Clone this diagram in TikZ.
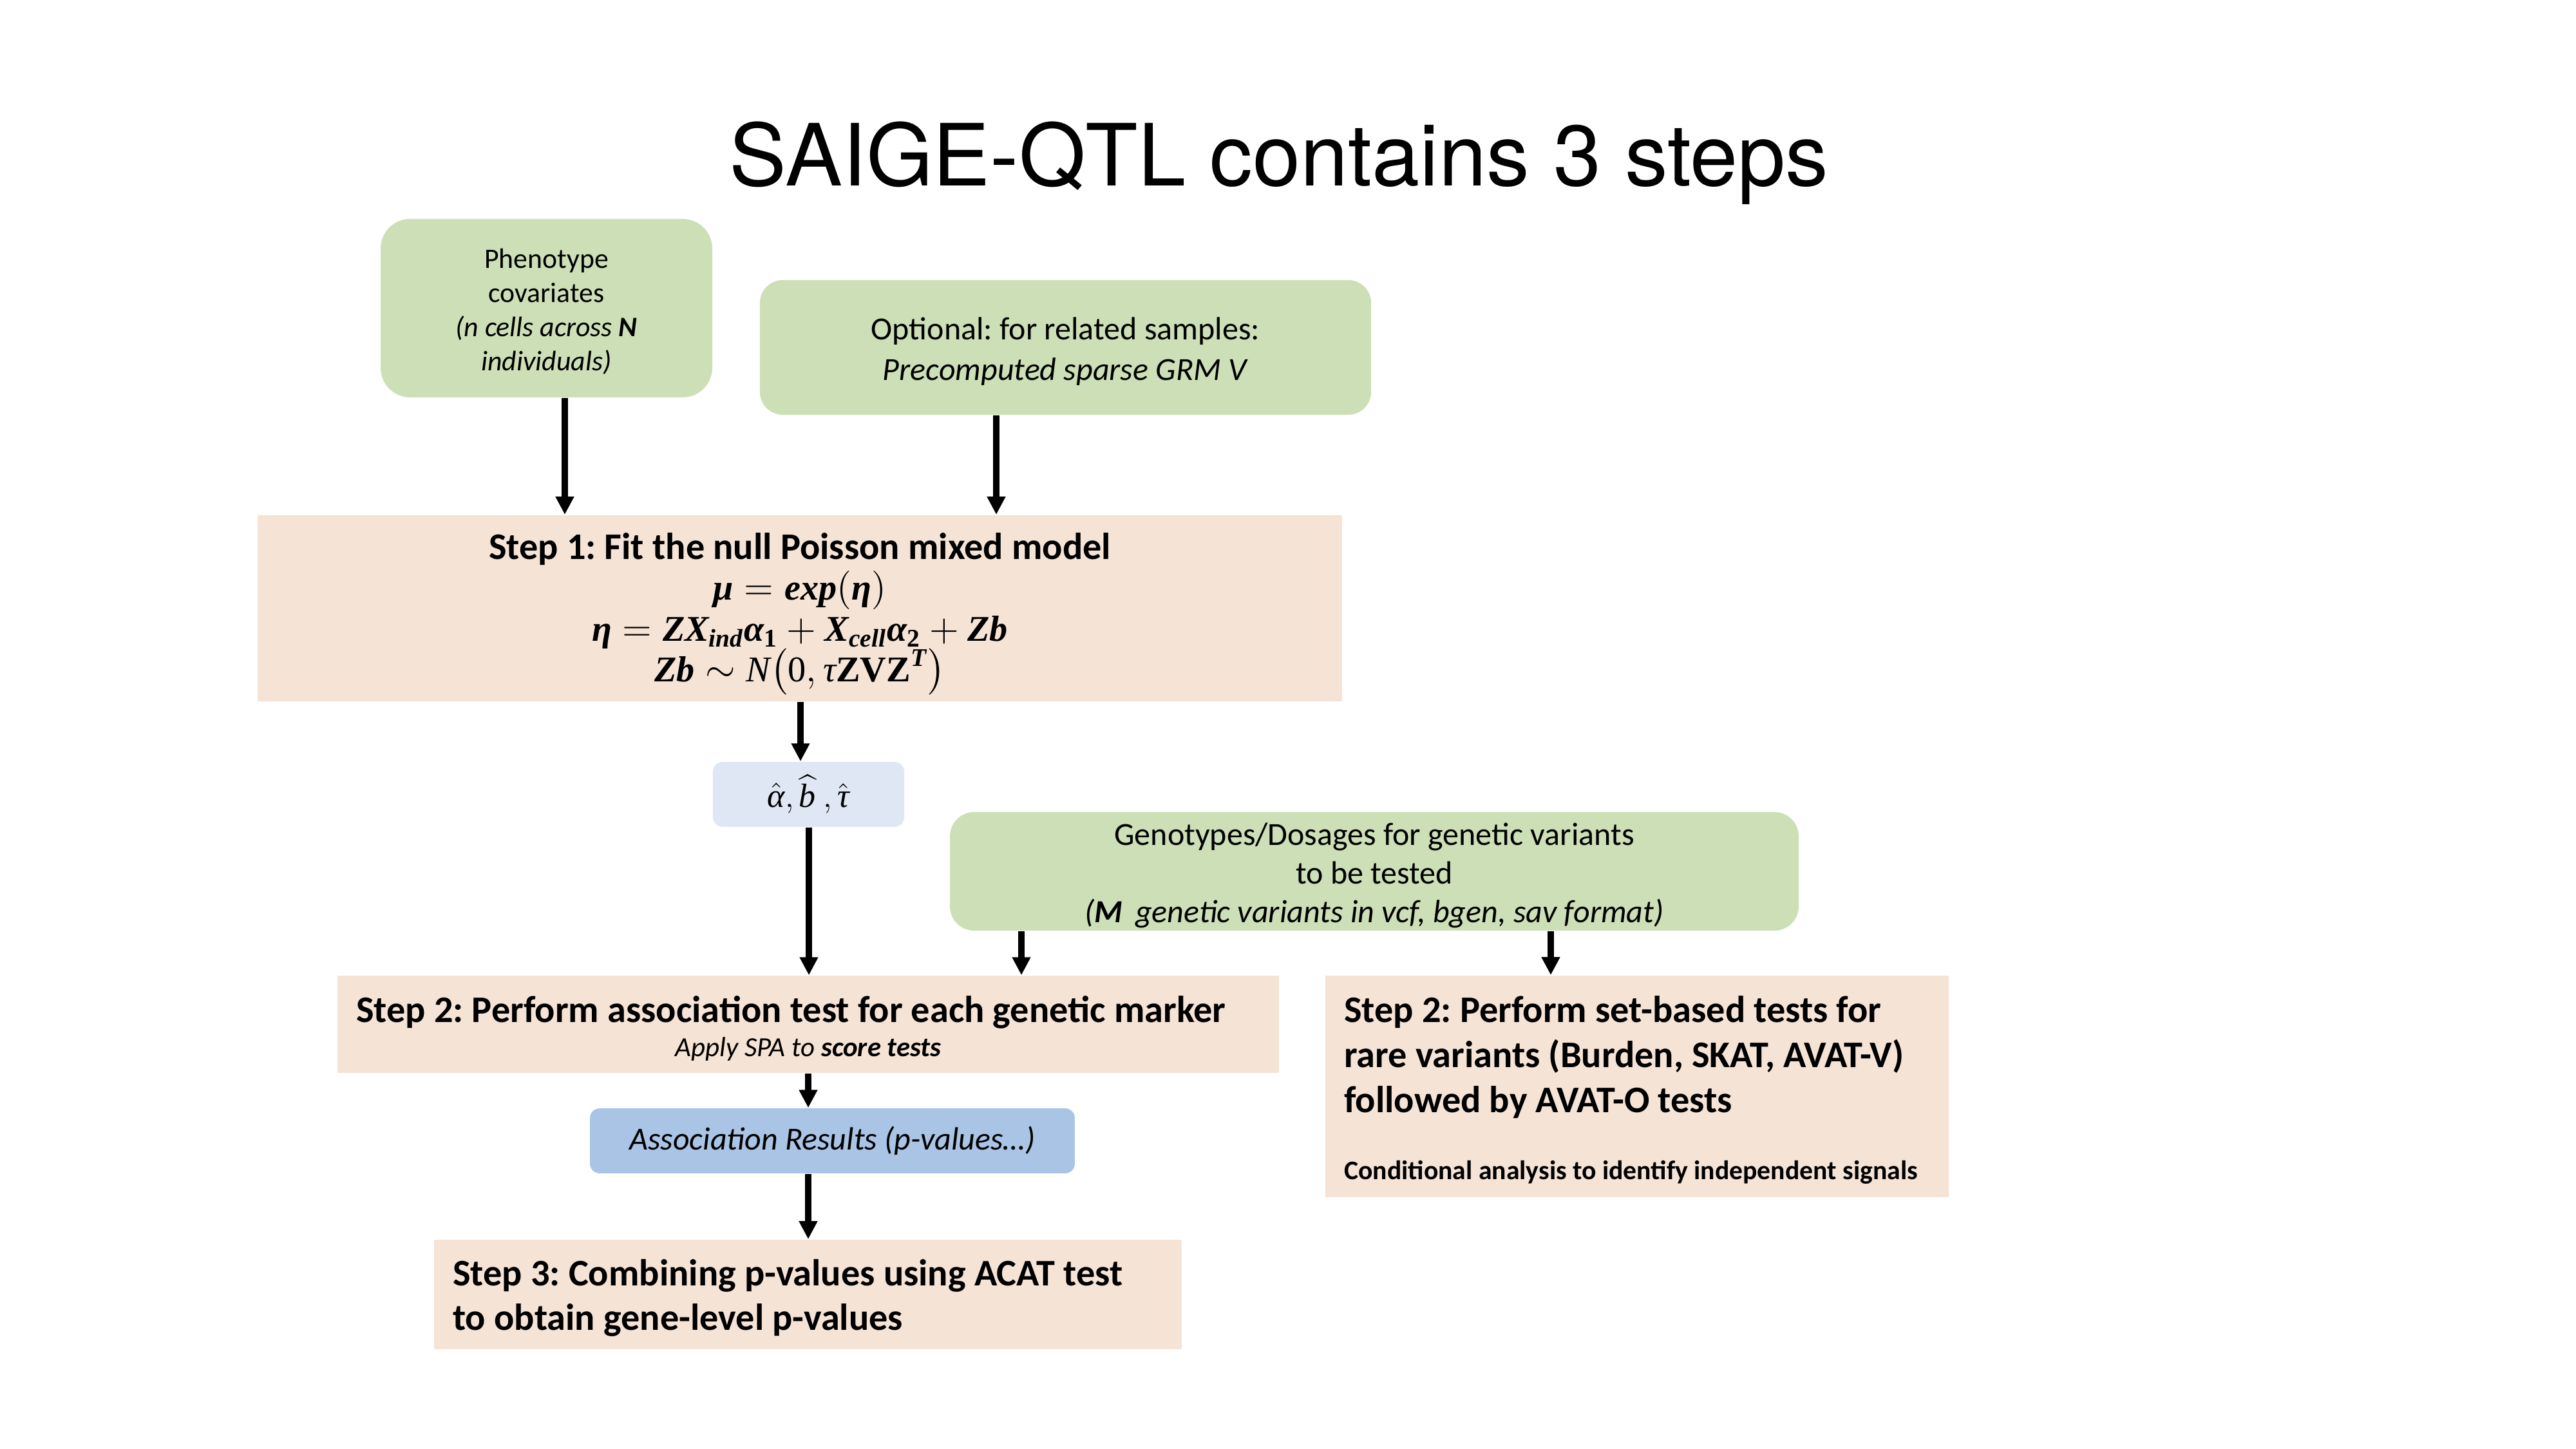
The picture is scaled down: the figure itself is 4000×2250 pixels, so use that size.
\documentclass[tikz,border=0pt]{standalone}
\usepackage{amsmath}
\usepackage{fontspec}
\setmainfont{Carlito}
\newfontfamily\headfont{TeX Gyre Heros}
\newfontfamily\eqfont{Liberation Serif}
\usepackage{xcolor}
\usepackage{tikz}
\usetikzlibrary{positioning,arrows.meta}
\frenchspacing

% letters of the formulas
\newcommand{\eqbi}[1]{\text{\eqfont\bfseries\itshape #1}}
\newcommand{\eqit}[1]{\text{\eqfont\itshape #1}}
\newcommand{\eqbf}[1]{\text{\eqfont\bfseries #1}}
% extra room above the first line of a box
\newcommand{\padtop}[1]{\rule{0pt}{#1}}

\definecolor{inputgreen}{RGB}{205,223,182}
\definecolor{steppeach}{RGB}{245,227,214}
\definecolor{parblue}{RGB}{223,231,244}
\definecolor{resblue}{RGB}{170,196,230}

\tikzset{
  inbox/.style={fill=inputgreen,inner sep=0pt,align=center},
  stepbox/.style={fill=steppeach,inner sep=0pt,align=center},
  parbox/.style={fill=parblue,rounded corners=3.6pt,inner sep=0pt,align=center},
  resbox/.style={fill=resblue,rounded corners=3.6pt,inner sep=0pt,align=center},
  arr/.style={line width=2.4pt,-{Triangle[width=6.5pt,length=6.7pt]}}
}

\begin{document}
\begin{tikzpicture}[x=0.24pt,y=0.24pt,yscale=-1,xscale=1]
\useasboundingbox (0,0) rectangle (4000,2250);

% Title
\node (title) at (1986,289) [anchor=base,font=\headfont\fontsize{32}{38}\selectfont] {SAIGE-QTL contains 3 steps};

% Inputs
\node (pheno) at (848.5,478.5) [inbox,rounded corners=11pt,minimum width=123.6pt,minimum height=66.5pt,font=\fontsize{10.5}{12.7}\selectfont] {\padtop{10pt}Phenotype\\covariates\\\textit{(n cells across \textbf{N}}\\\textit{individuals)}};
\node (opt) at (1654.5,539.5) [inbox,rounded corners=8.5pt,minimum width=227.8pt,minimum height=50.2pt,font=\fontsize{12}{15.1}\selectfont] {\padtop{11.2pt}Optional: for related samples:\\\textit{Precomputed sparse GRM V}};

% Step 1
\node (step1) at (1242,944.5) [stepbox,minimum width=404.2pt,minimum height=69.4pt,font=\fontsize{14}{15.2}\selectfont] {\padtop{14.2pt}\textbf{Step 1: Fit the null Poisson mixed model}\\{\fontsize{13.5}{15.2}\selectfont$\eqbi{μ}=\eqbi{exp}(\eqbi{η})$}\\{\fontsize{13.5}{15.2}\selectfont$\eqbi{η}=\eqbi{ZX}_{\eqbi{ind}}\eqbi{α}_{\eqbf{1}}+\eqbi{X}_{\eqbi{cell}}\eqbi{α}_{\eqbf{2}}+\eqbi{Zb}$}\\{\fontsize{13.5}{15.2}\selectfont$\eqbi{Zb}\sim\eqit{N}\bigl(\text{\eqfont 0},\eqit{τ}\eqbf{ZVZ}^{\eqbi{T}}\bigr)$}};

% Estimates
\node (hat) at (1255.5,1233.5) [parbox,minimum width=71.3pt,minimum height=24.2pt,font=\fontsize{12.5}{14}\selectfont] {$\hat{\eqit{α}},\widehat{\eqit{b}}\ ,\hat{\eqit{τ}}$};

% Genotypes
\node (geno) at (2134,1353) [inbox,rounded corners=9pt,minimum width=316.3pt,minimum height=44.2pt,font=\fontsize{12}{14.4}\selectfont] {\padtop{11.2pt}Genotypes/Dosages for genetic variants\\to be tested\\\textit{(\textbf{M}\, genetic variants in vcf, bgen, sav format)}};

% Step 2 (single variant)
\node (s2a) at (1255,1590.5) [stepbox,minimum width=350.9pt,minimum height=36.2pt,text width=336.9pt,inner xsep=7pt,align=flush left,font=\fontsize{14}{12.8}\selectfont] {\padtop{13pt}\textbf{Step 2: Perform association test for each genetic marker}\\\makebox[\linewidth][c]{\fontsize{10.3}{12}\selectfont\itshape Apply SPA to \textbf{score tests}}};

% Step 2 (set-based)
\node (s2b) at (2542,1687) [stepbox,minimum width=232.3pt,minimum height=82.6pt,text width=218.3pt,inner xsep=7pt,align=flush left,font=\fontsize{14}{16.8}\selectfont\bfseries] {\padtop{12.6pt}Step 2: Perform set-based tests for\\rare variants (Burden, SKAT, AVAT-V)\\followed by AVAT-O tests\\[8.2pt]\mbox{\fontsize{10}{12}\selectfont Conditional analysis to identify independent signals}};

% Results
\node (assoc) at (1292.5,1771.5) [resbox,minimum width=180.7pt,minimum height=24.2pt,font=\fontsize{12}{14}\selectfont\itshape] {Association Results (p-values…)};

% Step 3
\node (s3) at (1254.5,2010) [stepbox,minimum width=278.6pt,minimum height=40.8pt,text width=264.6pt,inner xsep=7pt,align=flush left,font=\fontsize{14}{16.6}\selectfont\bfseries] {\padtop{12.5pt}Step 3: Combining p-values using ACAT test\\to obtain gene-level p-values};

% Arrows
\draw [arr] (pheno.south -| 877,0) -- (step1.north -| 877,0);
\draw [arr] (opt.south -| 1547,0) -- (step1.north -| 1547,0);
\draw [arr] (step1.south -| 1243,0) -- (hat.north -| 1243,0);
\draw [arr] (hat.south -| 1256,0) -- (s2a.north -| 1256,0);
\draw [arr] (geno.south -| 1586,0) -- (s2a.north -| 1586,0);
\draw [arr] (geno.south -| 2408,0) -- (s2b.north -| 2408,0);
\draw [arr] (s2a.south -| 1255,0) -- (assoc.north -| 1255,0);
\draw [arr] (assoc.south -| 1255,0) -- (s3.north -| 1255,0);

\end{tikzpicture}
\end{document}
